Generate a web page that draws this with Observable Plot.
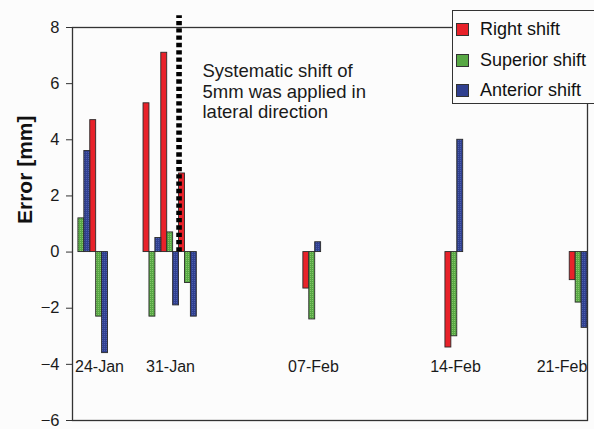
<!DOCTYPE html>
<html><head><meta charset="utf-8">
<script src="https://cdn.jsdelivr.net/npm/d3@7"></script>
<script src="https://cdn.jsdelivr.net/npm/@observablehq/plot@0.6"></script>
<style>
html,body{margin:0;padding:0;background:#fcfcfc;}
#wrap{position:relative;width:594px;height:429px;overflow:hidden;font-family:"Liberation Sans",Arial,sans-serif;}
#legend{position:absolute;left:452px;top:10px;width:150px;height:94px;border:1.3px solid #333;background:#fcfcfc;box-sizing:border-box;}
.item{position:absolute;left:3px;height:20px;display:flex;align-items:center;font-size:18px;color:#111;white-space:nowrap;}
.sw{width:11px;height:11px;border:1px solid #333;margin-right:11px;}
</style></head>
<body><div id="wrap"></div>
<script>
const sessionSlots = [0, 1, 4, 5, 6, 13, 21, 28];
const rightShift = [null, 4.7, 5.3, 7.1, 2.8, -1.3, -3.4, -1.0];
const superiorShift = [1.2, -2.3, -2.3, 0.7, -1.1, -2.4, -3.0, -1.8];
const anteriorShift = [3.6, -3.6, 0.5, -1.9, -2.3, 0.35, 4.0, -2.7];
const seriesNames = ["Right shift", "Superior shift", "Anterior shift"];
const seriesColors = ["#e8222a", "#58a845", "#30408f"];
const seriesDots = [null, "#86c66a", "#4e5fae"];
const dateLabels = ["24-Jan", "31-Jan", "07-Feb", "14-Feb", "21-Feb"];
const dateLabelSlots = [0, 4, 12, 20, 26];
const shiftSlot = 6;
const annotationLines = ["Systematic shift of", "5mm was applied in", "lateral direction"];
const yTicks = [-6, -4, -2, 0, 2, 4, 6, 8];
const yLabel = "Error [mm]";

const seriesValues = [rightShift, superiorShift, anteriorShift];
const seriesFill = seriesNames.map((n, k) => seriesDots[k] ? `url(#pat${k})` : seriesColors[k]);

const barMarks = seriesValues.map((vals, k) => {
  const rows = [];
  sessionSlots.forEach((s, i) => {
    if (vals[i] != null) rows.push({x1: s + k / 3, x2: s + (k + 1) / 3, value: vals[i], series: seriesNames[k]});
  });
  return Plot.rect(rows, {x1: "x1", x2: "x2", y1: 0, y2: "value", fill: seriesFill[k], stroke: "#2a2a2a", strokeWidth: 0.9});
});

const chart = Plot.plot({
  width: 594, height: 429,
  marginLeft: 72, marginRight: 7, marginTop: 27, marginBottom: 9,
  style: {background: "transparent", fontFamily: "Liberation Sans, Arial, sans-serif", color: "#1a1a1a", overflow: "visible"},
  x: {domain: [0, 29], axis: null},
  y: {domain: [-6, 8]},
  marks: [
    ...barMarks,
    Plot.ruleX([shiftSlot], {x: d => d, y1: 0, y2: 8.42, stroke: "#000", strokeWidth: 5.6, strokeDasharray: "4.3,3"}),
    Plot.text(dateLabels, {x: (d, i) => dateLabelSlots[i], y: -4.1, text: d => d, textAnchor: "start", dx: 2.5, fontSize: 16, fill: "#1a1a1a"}),
    Plot.text([annotationLines.join("\n")], {frameAnchor: "top-left", dx: 130, dy: 35.5, lineAnchor: "top", textAnchor: "start", fontSize: 18.5, lineHeight: 1.1, fill: "#1a1a1a"}),
    Plot.frame({stroke: "#333", strokeWidth: 1.3}),
    Plot.axisY({ticks: yTicks, tickSize: 6, tickPadding: 7, fontSize: 16.5, label: null, stroke: "#333"}),
    Plot.text([yLabel], {frameAnchor: "left", dx: -47, rotate: -90, fontWeight: "bold", fontSize: 21, fill: "#111"})
  ]
});

// dotted texture patterns for the green and blue bars
const ns = "http://www.w3.org/2000/svg";
const defs = document.createElementNS(ns, "defs");
seriesDots.forEach((dot, k) => {
  if (!dot) return;
  const p = document.createElementNS(ns, "pattern");
  p.setAttribute("id", `pat${k}`);
  p.setAttribute("patternUnits", "userSpaceOnUse");
  p.setAttribute("width", "2");
  p.setAttribute("height", "2");
  const bg = document.createElementNS(ns, "rect");
  bg.setAttribute("width", "2"); bg.setAttribute("height", "2"); bg.setAttribute("fill", seriesColors[k]);
  const d = document.createElementNS(ns, "rect");
  d.setAttribute("width", "1"); d.setAttribute("height", "1"); d.setAttribute("fill", dot);
  p.appendChild(bg); p.appendChild(d);
  defs.appendChild(p);
});
chart.insertBefore(defs, chart.firstChild);

const wrap = document.getElementById("wrap");
wrap.appendChild(chart);

const legend = document.createElement("div");
legend.id = "legend";
const rowTops = [8, 39, 69];
seriesNames.forEach((n, i) => {
  const it = document.createElement("div");
  it.className = "item";
  it.style.top = rowTops[i] + "px";
  const swFill = seriesDots[i]
    ? `background-color:${seriesColors[i]};background-image:radial-gradient(${seriesDots[i]} 35%, transparent 40%);background-size:2px 2px;`
    : `background:${seriesColors[i]};`;
  it.innerHTML = `<span class="sw" style="${swFill}"></span><span>${n}</span>`;
  legend.appendChild(it);
});
wrap.appendChild(legend);
</script>
</body></html>
